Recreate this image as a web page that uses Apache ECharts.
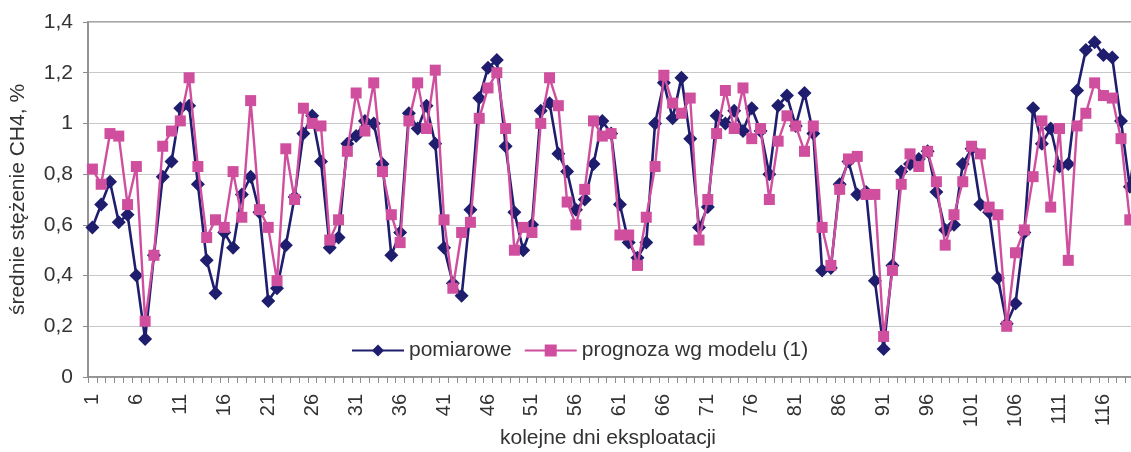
<!DOCTYPE html>
<html>
<head>
<meta charset="utf-8">
<script src="https://cdn.jsdelivr.net/npm/echarts@6/dist/echarts.min.js"></script>
<style>
html,body{margin:0;padding:0;background:#fff;overflow:hidden;width:1131px;height:452px;}
#c{width:1143px;height:452px;}
</style>
</head>
<body>
<div id="c"></div>
<script>
const days = [];
for (let i = 1; i <= 120; i++) days.push(String(i));

const pomiarowe = [
0.59,0.68,0.77,0.61,0.64,0.40,0.15,0.48,0.79,0.85,
1.06,1.07,0.76,0.46,0.33,0.57,0.51,0.72,0.79,0.65,
0.30,0.35,0.52,0.71,0.96,1.03,0.85,0.51,0.55,0.92,
0.95,1.01,1.00,0.84,0.48,0.57,1.04,0.98,1.07,0.92,
0.51,0.37,0.32,0.66,1.10,1.22,1.25,0.91,0.65,0.50,
0.60,1.05,1.08,0.88,0.81,0.66,0.70,0.84,1.01,0.96,
0.68,0.53,0.47,0.53,1.00,1.16,1.02,1.18,0.94,0.59,
0.67,1.03,1.00,1.05,0.97,1.06,0.97,0.80,1.07,1.11,
0.99,1.12,0.96,0.42,0.43,0.76,0.85,0.72,0.73,0.38,
0.11,0.44,0.81,0.84,0.86,0.89,0.73,0.58,0.60,0.84,
0.90,0.68,0.65,0.39,0.21,0.29,0.57,1.06,0.92,0.98,
0.83,0.84,1.13,1.29,1.32,1.27,1.26,1.01,0.75,1.00
];

const prognoza = [
0.82,0.76,0.96,0.95,0.68,0.83,0.22,0.48,0.91,0.97,
1.01,1.18,0.83,0.55,0.62,0.59,0.81,0.63,1.09,0.66,
0.59,0.38,0.90,0.70,1.06,1.00,0.99,0.54,0.62,0.89,
1.12,0.97,1.16,0.81,0.64,0.53,1.01,1.16,0.98,1.21,
0.62,0.35,0.57,0.61,1.02,1.14,1.20,0.98,0.50,0.59,
0.57,1.00,1.18,1.07,0.69,0.60,0.74,1.01,0.95,0.96,
0.56,0.56,0.44,0.63,0.83,1.19,1.08,1.04,1.10,0.54,
0.70,0.96,1.13,0.98,1.14,0.94,0.98,0.70,0.93,1.03,
0.99,0.89,0.99,0.59,0.44,0.74,0.86,0.87,0.72,0.72,
0.16,0.42,0.76,0.88,0.83,0.89,0.77,0.52,0.64,0.77,
0.91,0.88,0.67,0.64,0.20,0.49,0.58,0.79,1.01,0.67,
0.98,0.46,0.99,1.04,1.16,1.11,1.10,0.94,0.62,0.65
];

const yTicks = [0, 0.2, 0.4, 0.6, 0.8, 1, 1.2, 1.4];

const FONT = '"Liberation Sans", Arial, sans-serif';
const TXT = '#333';
const NAVY = '#1f1e6e';
const PINK = '#cf4f9e';

const chart = echarts.init(document.getElementById('c'), null, {renderer: 'canvas'});
chart.setOption({
  animation: false,
  backgroundColor: '#fff',
  textStyle: {fontFamily: FONT},
  grid: {
    left: 87.6, top: 22, bottom: 75, right: 0,
    show: true, borderColor: '#8c8c8c', borderWidth: 1.5, backgroundColor: 'transparent'
  },
  legend: {
    left: 346, top: 335,
    itemGap: 12,
    itemWidth: 52, itemHeight: 15,
    textStyle: {fontFamily: FONT, fontSize: 21, color: TXT},
    data: ['pomiarowe', 'prognoza wg modelu (1)']
  },
  xAxis: {
    type: 'category',
    data: days,
    boundaryGap: true,
    axisLine: {show: true, lineStyle: {color: '#8c8c8c', width: 1.5}},
    axisTick: {show: true, interval: 0, length: 6, lineStyle: {color: '#8c8c8c'}},
    axisLabel: {interval: 4, rotate: 90, margin: 17, fontFamily: FONT, fontSize: 20, color: TXT},
    splitLine: {show: false}
  },
  yAxis: {
    type: 'value',
    min: 0, max: 1.4, interval: 0.2,
    name: 'średnie stężenie CH4, %',
    nameLocation: 'middle',
    nameGap: 59,
    nameRotate: 90,
    nameTextStyle: {fontFamily: FONT, fontSize: 21, color: TXT},
    axisLine: {show: true, lineStyle: {color: '#8c8c8c', width: 1.5}},
    axisTick: {show: true, length: 5, lineStyle: {color: '#8c8c8c'}},
    axisLabel: {
      margin: 15, fontFamily: FONT, fontSize: 21, color: TXT,
      formatter: v => {
        const t = yTicks.find(x => Math.abs(x - v) < 1e-6);
        return (t === undefined ? v : t).toString().replace('.', ',');
      }
    },
    splitLine: {show: true, lineStyle: {color: '#c8c8c8', width: 1.2}}
  },
  graphic: [{
    type: 'text', left: 500, top: 428,
    style: {text: 'kolejne dni eksploatacji', font: '21px ' + FONT, fill: TXT}
  }],
  series: [
    {
      name: 'pomiarowe', type: 'line', data: pomiarowe,
      symbol: 'diamond', symbolSize: 14, showAllSymbol: true,
      lineStyle: {color: NAVY, width: 2.6},
      itemStyle: {color: NAVY},
      z: 2
    },
    {
      name: 'prognoza wg modelu (1)', type: 'line', data: prognoza,
      symbol: 'rect', symbolSize: 11, showAllSymbol: true,
      lineStyle: {color: PINK, width: 2.4},
      itemStyle: {color: PINK},
      z: 3
    }
  ]
});
</script>
</body>
</html>
